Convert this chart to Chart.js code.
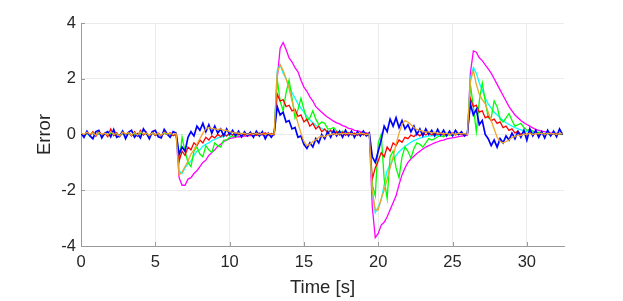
<!DOCTYPE html>
<html><head><meta charset="utf-8">
<script src="https://cdn.jsdelivr.net/npm/chart.js@4.4.1/dist/chart.umd.min.js"></script>
<style>html,body{margin:0;padding:0;background:#fff;overflow:hidden}</style>
</head><body>
<canvas id="c" width="623" height="301" style="display:block;width:623px;height:301px"></canvas>
<script>
const time = [0,0.2,0.4,0.6,0.8,1,1.2,1.4,1.6,1.8,2,2.2,2.4,2.6,2.8,3,3.2,3.4,3.6,3.8,4,4.2,4.4,4.6,4.8,5,5.2,5.4,5.6,5.8,6,6.2,6.4,
6.6,6.8,7,7.2,7.4,7.6,7.8,8,8.2,8.4,8.6,8.8,9,9.2,9.4,9.6,9.8,10,10.2,10.4,10.6,10.8,11,11.2,11.4,11.6,11.8,12,12.2,12.4,12.6,12.8,13,
13.2,13.4,13.6,13.8,14,14.2,14.4,14.6,14.8,15,15.2,15.4,15.6,15.8,16,16.2,16.4,16.6,16.8,17,17.2,17.4,17.6,17.8,18,18.2,18.4,18.6,18.8,19,19.2,19.4,
19.6,19.8,20,20.2,20.4,20.6,20.8,21,21.2,21.4,21.6,21.8,22,22.2,22.4,22.6,22.8,23,23.2,23.4,23.6,23.8,24,24.2,24.4,24.6,24.8,25,25.2,25.4,25.6,25.8,26,
26.2,26.4,26.6,26.8,27,27.2,27.4,27.6,27.8,28,28.2,28.4,28.6,28.8,29,29.2,29.4,29.6,29.8,30,30.2,30.4,30.6,30.8,31,31.2,31.4,31.6,31.8,32,32.2,32.4];

const errBlue = [0.05,-0.1,0.12,-0.05,-0.15,0.1,0.15,-0.12,0.05,0.1,-0.08,0.18,-0.1,-0.05,0.12,-0.15,0.08,0.15,-0.1,0.02,-0.12,0.2,0.05,-0.15,0.1,0.15,-0.08,-0.12,0.18,0.02,-0.1,0.1,0.05,
-0.7,-0.45,-0.6,-0.1,0.1,-0.05,0.3,0.15,0.4,0.1,0.35,0.05,0.3,0.05,0.2,-0.05,0.2,0,0.15,-0.05,0.12,-0.08,0.1,-0.05,0.08,-0.1,0.12,-0.05,0.1,-0.15,0.05,-0.1,0.05,
1.0,0.7,0.8,0.45,0.5,0.2,0.25,-0.1,-0.05,-0.35,-0.5,-0.3,-0.45,-0.15,-0.3,0,-0.15,0.1,-0.1,0.15,-0.05,0.12,-0.1,0.15,-0.05,0.12,-0.1,0.1,-0.05,0.12,-0.05,0.05,
-0.8,-1.0,-0.6,-0.2,0.3,0.1,0.55,0.3,0.6,0.25,0.5,0.2,0.35,0.1,0.3,0,0.2,-0.05,0.2,0,0.15,-0.05,0.18,-0.02,0.15,-0.05,0.12,-0.05,0.15,0,0.1,-0.05,0.05,
1.1,0.7,0.9,0.35,0.5,0,-0.15,-0.4,-0.2,-0.45,-0.15,-0.3,-0.05,-0.2,0.05,-0.15,0.1,-0.1,0.15,-0.2,0.2,-0.05,0.15,-0.1,0.1,-0.12,0.15,-0.05,0.12,-0.08,0.2,0];

const errRed = [0.02,-0.05,0.08,-0.03,0.1,-0.06,0.12,-0.02,0.05,-0.08,0.2,-0.04,0.06,-0.08,0.1,0,0.08,-0.05,0.1,-0.06,0.15,-0.02,0.08,-0.1,0.1,-0.04,0.05,-0.06,0.12,0,0.06,-0.04,0.03,
-0.95,-0.6,-0.75,-0.45,-0.55,-0.3,-0.4,-0.2,-0.3,-0.1,-0.2,-0.05,-0.12,0,-0.08,0.02,-0.05,0.05,-0.02,0.05,0,0.04,-0.02,0.03,0,0.04,-0.03,0.05,0,0.06,-0.02,0.04,0,
1.45,1.2,1.25,1.0,1.05,0.85,0.9,0.65,0.7,0.45,0.55,0.3,0.4,0.2,0.3,0.1,0.2,0.05,0.15,0,0.1,-0.02,0.08,-0.03,0.06,-0.02,0.05,-0.03,0.06,-0.02,0.04,0,
-1.6,-1.2,-0.95,-0.65,-0.8,-0.45,-0.6,-0.3,-0.4,-0.2,-0.28,-0.1,-0.15,-0.02,-0.08,0.03,-0.05,0.05,-0.02,0.06,-0.02,0.05,0,0.05,-0.02,0.04,0,0.05,-0.02,0.04,0,0.03,0,
1.3,1.0,1.05,0.8,0.85,0.6,0.65,0.5,0.55,0.4,0.45,0.25,0.3,0.15,0.2,0.05,0.12,0,0.08,-0.02,0.1,-0.03,0.06,-0.02,0.05,0,0.06,-0.03,0.05,0,0.04,0];

const errCyan = [0,-0.04,0.03,-0.06,0.05,-0.02,0.04,-0.05,0.03,-0.03,0.06,-0.02,0.03,-0.05,0.04,0,0.05,-0.03,0.04,-0.04,0.05,0,0.03,-0.05,0.04,-0.02,0.03,-0.03,0.05,0,0.03,-0.02,0,
-1.3,-1.4,-1.2,-1.05,-0.95,-0.75,-0.6,-0.55,-0.42,-0.35,-0.3,-0.22,-0.18,-0.12,-0.1,-0.06,-0.05,-0.02,0,-0.02,0.02,0,0.03,-0.02,0.02,0,0.03,-0.02,0.02,0,0.03,-0.02,0,
2.3,2.5,2.2,2.0,1.75,1.5,1.3,1.1,0.95,0.8,0.65,0.52,0.42,0.33,0.27,0.22,0.17,0.13,0.12,0.08,0.08,0.05,0.06,0.03,0.05,0.02,0.04,0,0.03,0,0.02,0,
-2.0,-2.8,-2.6,-2.35,-1.8,-1.3,-1.1,-0.9,-0.75,-0.62,-0.52,-0.42,-0.35,-0.28,-0.22,-0.17,-0.13,-0.1,-0.08,-0.05,-0.05,-0.02,-0.03,0,-0.02,0.02,0,0.02,0,0.03,0,0.02,0,
2.0,2.4,2.2,1.85,1.6,1.3,1.1,0.95,0.8,0.7,0.6,0.5,0.42,0.36,0.3,0.25,0.2,0.17,0.13,0.1,0.09,0.06,0.06,0.03,0.04,0.02,0.03,0,0.02,0,0.02,0];

const errOrange = [0.05,0,0.08,0.02,0.06,-0.03,0.08,0,0.05,-0.02,0.1,0,0.04,-0.05,0.08,0.02,0.06,-0.03,0.07,-0.02,0.1,0.02,0.05,-0.04,0.06,0,0.04,-0.03,0.08,0.02,0.05,0,0.04,
-1.45,-1.35,-1.15,-0.95,-0.7,-0.55,-0.35,-0.15,0.05,0.2,0.25,0.22,0.2,0.18,0.2,0.15,0.15,0.1,0.08,0.05,0.06,0.02,0.05,0,0.04,0,0.05,0,0.04,0,0.05,0,0.02,
2.2,2.5,2.3,2.0,1.65,1.2,0.8,0.4,0.05,-0.25,-0.4,-0.35,-0.25,-0.2,-0.1,-0.05,-0.08,-0.02,0,0.03,0,0.04,0.02,0.05,0.02,0.04,0,0.04,0.02,0.05,0,0.02,
-2.0,-2.7,-2.7,-2.3,-2.0,-1.6,-1.2,-0.8,-0.35,0.05,0.35,0.5,0.45,0.35,0.25,0.18,0.15,0.12,0.08,0.1,0.05,0.08,0.03,0.06,0.02,0.05,0,0.04,0,0.05,0.02,0.04,0,
1.9,2.3,1.8,1.45,1.25,1.1,0.8,0.5,0.2,-0.1,-0.25,-0.3,-0.25,-0.2,-0.1,-0.08,-0.02,-0.04,0.02,0,0.05,0,0.04,0.02,0.05,0,0.05,0.02,0.04,0,0.05,0.02];

const errGreen = [0.02,-0.03,0.05,-0.02,0.06,-0.04,0.05,-0.02,0.04,-0.04,0.07,-0.02,0.03,-0.05,0.05,0,0.06,-0.03,0.04,-0.03,0.06,0,0.04,-0.05,0.05,-0.02,0.03,-0.04,0.06,0,0.04,-0.02,0.02,
-1.0,-0.1,-0.6,-1.0,-1.15,-0.6,-0.45,-0.7,-0.8,-0.4,-0.55,-0.65,-0.3,-0.4,-0.45,-0.2,-0.2,-0.1,-0.05,-0.08,0,-0.03,0.02,-0.02,0.03,0,0.03,-0.02,0.03,0,0.03,-0.02,0,
2.0,1.2,0.85,1.5,1.95,1.3,0.6,0.9,1.3,0.9,0.5,0.6,0.85,0.55,0.35,0.45,0.4,0.2,0.2,0.25,0.12,0.08,0.12,0.05,0.03,0.06,0,0.03,0,0.02,-0.02,0,
-1.8,-2.2,-0.3,0,-1.6,-2.3,-0.8,-0.6,-1.2,-1.55,-0.8,-0.45,-0.6,-0.85,-0.5,-0.3,-0.35,-0.45,-0.3,-0.15,-0.2,-0.15,-0.08,-0.05,-0.08,-0.02,0,-0.03,0.02,0,0.03,0,0.02,
1.8,1.0,0.1,1.2,1.85,1.2,0.6,0.6,1.2,1.0,0.55,0.45,0.6,0.75,0.5,0.3,0.35,0.4,0.25,0.15,0.18,0.12,0.05,0.08,0.05,0,0.04,0,0.03,-0.02,0.03,0];

const errMagenta = [0,-0.03,0.04,-0.02,0.05,-0.03,0.04,-0.02,0.03,-0.03,0.05,-0.02,0.03,-0.04,0.04,0,0.05,-0.02,0.03,-0.03,0.05,0,0.03,-0.04,0.04,-0.02,0.03,-0.03,0.05,0,0.03,-0.02,0,
-1.55,-1.82,-1.82,-1.6,-1.55,-1.4,-1.3,-1.15,-1.0,-0.92,-0.75,-0.65,-0.55,-0.42,-0.35,-0.25,-0.2,-0.15,-0.12,-0.1,-0.08,-0.08,-0.05,-0.06,-0.03,-0.04,-0.02,-0.02,0,-0.02,0,0,0,
2.0,3.1,3.3,3.05,2.75,2.6,2.4,2.25,1.95,1.7,1.55,1.35,1.2,1.0,0.9,0.8,0.7,0.62,0.55,0.48,0.42,0.38,0.32,0.28,0.22,0.2,0.15,0.14,0.1,0.08,0.06,0.05,
-2.6,-3.7,-3.55,-3.25,-3.15,-2.95,-2.7,-2.45,-2.2,-1.8,-1.45,-1.2,-1.0,-0.88,-0.78,-0.68,-0.6,-0.52,-0.45,-0.4,-0.35,-0.3,-0.26,-0.22,-0.2,-0.16,-0.14,-0.12,-0.1,-0.08,-0.06,-0.04,-0.03,
2.2,3.0,2.95,2.75,2.65,2.5,2.35,2.2,2.0,1.8,1.6,1.4,1.2,1.0,0.85,0.7,0.6,0.5,0.42,0.36,0.3,0.24,0.18,0.15,0.12,0.1,0.08,0.06,0.05,0.04,0.03,0.02];

const xTicks = [0,5,10,15,20,25,30];
const yTicks = [-4,-2,0,2,4];

const FONT = "'Liberation Sans', Arial, Helvetica, sans-serif";
const AXIS = '#9a9a9a';
const TXT = '#262626';

function pts(vals){ return time.map((t,i)=>({x:t, y:vals[i]})); }
function ds(vals, color, w){
  return {data: pts(vals), borderColor: color, borderWidth: w, pointRadius: 0, fill: false, tension: 0};
}

const innerTicks = {
  id: 'innerTicks',
  beforeDatasetsDraw(chart){
    const {ctx, chartArea: a, scales} = chart;
    ctx.save();
    ctx.strokeStyle = AXIS; ctx.lineWidth = 1;
    ctx.beginPath();
    scales.x.ticks.forEach(t => {
      const px = Math.round(scales.x.getPixelForValue(t.value)) + 0.5;
      ctx.moveTo(px, a.bottom); ctx.lineTo(px, a.bottom - 4);
    });
    scales.y.ticks.forEach(t => {
      const py = Math.round(scales.y.getPixelForValue(t.value)) + 0.5;
      ctx.moveTo(a.left, py); ctx.lineTo(a.left + 4, py);
    });
    ctx.stroke();
    ctx.restore();
  }
};

new Chart(document.getElementById('c'), {
  type: 'line',
  data: {
    datasets: [
      ds(errOrange, '#EDA52A', 1.3),
      ds(errBlue, '#0000FF', 1.7),
      ds(errRed, '#FF0000', 1.3),
      ds(errGreen, '#00FF00', 1.3),
      ds(errCyan, '#00FFFF', 1.3),
      ds(errMagenta, '#FF00FF', 1.3)
    ]
  },
  options: {
    responsive: false,
    animation: false,
    devicePixelRatio: 1,
    layout: {padding: {top: 23, right: 59, left: 0, bottom: 0}},
    plugins: {legend: {display: false}, tooltip: {enabled: false}},
    scales: {
      x: {
        type: 'linear', min: 0, max: 32.5,
        afterBuildTicks: s => { s.ticks = xTicks.map(v => ({value: v})); },
        afterFit: s => { s.height = 55; },
        grid: {color: '#ebebeb', lineWidth: 1, drawTicks: false},
        border: {color: AXIS, width: 1},
        ticks: {color: TXT, font: {family: FONT, size: 16.5}, padding: 6.5, maxRotation: 0},
        title: {display: true, text: 'Time [s]', color: TXT, font: {family: FONT, size: 18.5}, padding: {top: 0, bottom: 2}}
      },
      y: {
        type: 'linear', min: -4, max: 4,
        afterBuildTicks: s => { s.ticks = yTicks.map(v => ({value: v})); },
        afterFit: s => { s.width = 81; },
        grid: {color: '#ebebeb', lineWidth: 1, drawTicks: false},
        border: {color: AXIS, width: 1},
        ticks: {color: TXT, font: {family: FONT, size: 16.5}, padding: 5},
        title: {display: true, text: 'Error', color: TXT, font: {family: FONT, size: 18.5}, padding: {top: 34, bottom: 0}}
      }
    }
  },
  plugins: [innerTicks]
});
</script>
</body></html>
